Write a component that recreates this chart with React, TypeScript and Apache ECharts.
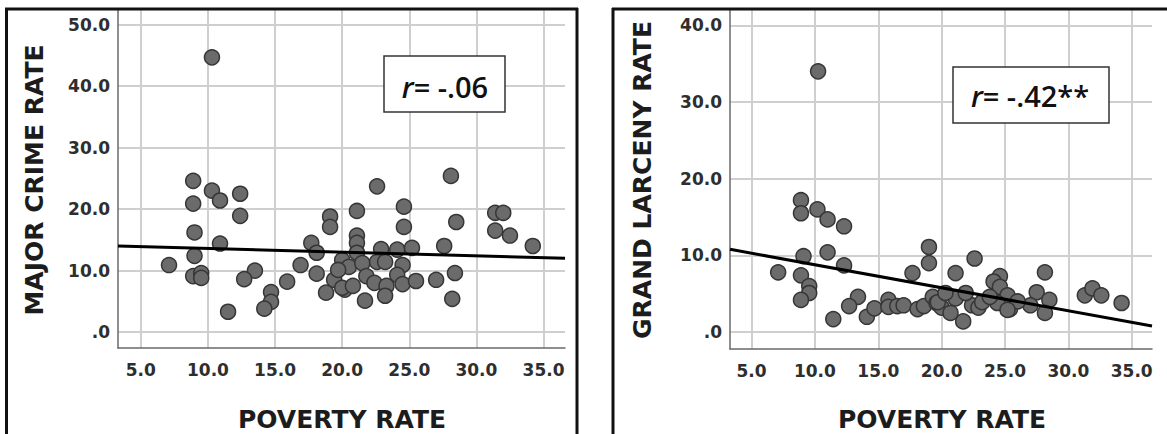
import React, { useEffect, useRef } from "react";
import * as echarts from "echarts";

// Poverty rate (x) vs major crime rate (y)
const majorCrime: number[][] = [
  [10.3, 44.7],
  [8.9, 24.6], [10.3, 23.0], [10.9, 21.4], [12.4, 22.5], [8.9, 20.9], [12.4, 18.9],
  [9.0, 16.2], [10.9, 14.4], [9.0, 12.4], [7.1, 10.9], [8.9, 9.1], [9.5, 9.6],
  [9.5, 8.8], [11.5, 3.3], [13.5, 10.0], [12.7, 8.6], [14.7, 6.5], [14.7, 4.9],
  [14.2, 3.8], [15.9, 8.2], [16.9, 10.9], [17.7, 14.5], [18.1, 12.9], [19.1, 18.8],
  [19.1, 17.1], [18.1, 9.5], [18.8, 6.4], [19.4, 8.5], [20.2, 6.9],
  [22.6, 23.7], [28.1, 25.4], [21.1, 19.7], [24.6, 20.4], [24.6, 17.1], [28.5, 17.9],
  [31.4, 19.4], [32.0, 19.4], [31.4, 16.5], [32.5, 15.7], [34.2, 14.0], [21.1, 15.7],
  [21.1, 14.5], [21.1, 12.9], [22.9, 13.5], [24.1, 13.4], [25.2, 13.7], [27.6, 14.0],
  [20.0, 11.7], [20.5, 10.6], [21.5, 11.2], [22.6, 11.4], [23.2, 11.4], [24.5, 10.9],
  [19.7, 10.1], [21.8, 9.1], [24.1, 9.3], [20.0, 7.2], [20.8, 7.5], [22.4, 8.0],
  [23.3, 7.5], [24.5, 7.8], [25.5, 8.3], [27.0, 8.5], [28.4, 9.6], [28.2, 5.4],
  [21.7, 5.1], [23.2, 5.9],
];

// Poverty rate (x) vs grand larceny rate (y)
const grandLarceny: number[][] = [
  [10.25, 34.0],
  [8.9, 17.2], [8.9, 15.5], [10.2, 16.0], [11.0, 14.7], [12.3, 13.8], [9.1, 9.9],
  [11.0, 10.4], [12.3, 8.7], [7.1, 7.8], [8.9, 7.4], [9.55, 6.0], [9.55, 5.1],
  [8.9, 4.2], [11.45, 1.7], [13.4, 4.6], [12.7, 3.4], [14.1, 2.0], [14.7, 3.1],
  [15.8, 4.2], [15.8, 3.3], [16.5, 3.4], [17.0, 3.5], [17.7, 7.7], [18.1, 3.0],
  [18.6, 3.4], [19.0, 11.1], [19.0, 9.0], [19.3, 4.6], [19.6, 3.8], [20.0, 3.2],
  [22.6, 9.6], [21.1, 7.7], [28.15, 7.8], [24.6, 7.3], [24.1, 6.6], [24.6, 5.9],
  [25.2, 4.8], [25.4, 3.0], [27.5, 5.2], [28.5, 4.2], [28.15, 2.5], [27.0, 3.5],
  [26.0, 4.0], [31.3, 4.8], [31.9, 5.7], [32.6, 4.8], [34.2, 3.8], [21.7, 1.4],
  [20.7, 2.5], [19.7, 3.9], [22.4, 3.5], [22.9, 3.2], [23.2, 3.9], [21.1, 4.4],
  [21.9, 5.1], [24.4, 3.8], [25.2, 2.9], [23.8, 4.6], [20.3, 5.1],
];

// Fit line end points
const fitMajor: number[][] = [[3.3, 14.0], [36.6, 12.0]];
const fitLarceny: number[][] = [[3.3, 10.8], [36.6, 0.8]];

const xRange = [3.3, 36.6];
const yRangeMajor = [-2.6, 52.4];
const yRangeLarceny = [-2.2, 42.0];

const xTitle = "POVERTY RATE";
const yTitleMajor = "MAJOR CRIME RATE";
const yTitleLarceny = "GRAND LARCENY RATE";
const rMajor = "= -.06";
const rLarceny = "= -.42**";

const labelFont = "DejaVu Sans";
const gridColor = "#cfcfcf";
const axisColor = "#6a6a6a";

function makeX(gridIndex: number) {
  return {
    type: "value",
    gridIndex,
    min: xRange[0],
    max: xRange[1],
    axisLine: { show: true, onZero: false, lineStyle: { color: axisColor, width: 1.5 } },
    axisTick: { show: false },
    axisLabel: {
      showMinLabel: false,
      showMaxLabel: false,
      margin: 13,
      fontFamily: labelFont,
      fontWeight: "bold",
      fontSize: 17,
      color: "#2e2e2e",
      formatter: (v: number) => v.toFixed(1),
    },
    splitLine: {
      show: true,
      showMinLine: false,
      showMaxLine: false,
      lineStyle: { color: gridColor, width: 2 },
    },
  };
}

function makeY(gridIndex: number, range: number[]) {
  return {
    type: "value",
    gridIndex,
    min: range[0],
    max: range[1],
    axisLine: { show: true, onZero: false, lineStyle: { color: axisColor, width: 1.5 } },
    axisTick: { show: false },
    axisLabel: {
      showMinLabel: false,
      showMaxLabel: false,
      margin: 8,
      fontFamily: labelFont,
      fontWeight: "bold",
      fontSize: 17,
      color: "#2e2e2e",
      formatter: (v: number) => (v === 0 ? ".0" : v.toFixed(1)),
    },
    splitLine: {
      show: true,
      showMinLine: false,
      showMaxLine: false,
      lineStyle: { color: gridColor, width: 2 },
    },
  };
}

const scatterStyle = {
  color: "#6b6b6b",
  borderColor: "#363636",
  borderWidth: 1.5,
  opacity: 1,
};

function rText(x: number, y: number, rest: string) {
  const base = { fontFamily: "Open Sans", fontWeight: 600, fontSize: 29, fill: "#111" };
  return {
    type: "text",
    x,
    y,
    z: 101,
    style: {
      text: "{i|r}{n|" + rest + "}",
      align: "center",
      verticalAlign: "middle",
      rich: {
        i: { ...base, fontStyle: "italic" },
        n: { ...base },
      },
    },
  };
}

function titleText(x: number, y: number, text: string, rotate: boolean) {
  return {
    type: "text",
    x,
    y,
    rotation: rotate ? Math.PI / 2 : 0,
    z: 100,
    style: {
      text,
      align: "center",
      verticalAlign: "middle",
      fontFamily: labelFont,
      fontWeight: "bold",
      fontSize: 25,
      fill: "#1c1c1c",
    },
  };
}

function border(x1: number, y1: number, x2: number, y2: number, w: number) {
  return {
    type: "line",
    z: 100,
    shape: { x1, y1, x2, y2 },
    style: { stroke: "#111", lineWidth: w },
  };
}

export default function App() {
  const ref = useRef<HTMLDivElement>(null);
  useEffect(() => {
    if (!ref.current) return;
    const chart = echarts.init(ref.current, null, { renderer: "svg" });
    chart.setOption({
      animation: false,
      backgroundColor: "#ffffff",
      grid: [
        { left: 118, top: 10, width: 447, height: 338 },
        { left: 730, top: 10, width: 422, height: 339 },
      ],
      xAxis: [makeX(0), makeX(1)],
      yAxis: [makeY(0, yRangeMajor), makeY(1, yRangeLarceny)],
      series: [
        {
          type: "scatter",
          xAxisIndex: 0,
          yAxisIndex: 0,
          data: majorCrime,
          symbolSize: 15,
          itemStyle: scatterStyle,
          z: 2,
        },
        {
          type: "line",
          xAxisIndex: 0,
          yAxisIndex: 0,
          data: fitMajor,
          symbol: "none",
          lineStyle: { color: "#000", width: 3 },
          z: 3,
        },
        {
          type: "scatter",
          xAxisIndex: 1,
          yAxisIndex: 1,
          data: grandLarceny,
          symbolSize: 15,
          itemStyle: scatterStyle,
          z: 2,
        },
        {
          type: "line",
          xAxisIndex: 1,
          yAxisIndex: 1,
          data: fitLarceny,
          symbol: "none",
          lineStyle: { color: "#000", width: 3 },
          z: 3,
        },
      ],
      graphic: [
        border(6.5, 8, 6.5, 434, 3),
        border(5, 9, 578, 9, 3),
        border(577, 8, 577, 434, 3),
        border(613, 8, 613, 434, 3),
        border(612, 9, 1167, 9, 3),
        {
          type: "rect",
          z: 100,
          shape: { x: 384, y: 56, width: 121, height: 56 },
          style: { fill: "#fff", stroke: "#333", lineWidth: 1.5 },
        },
        {
          type: "rect",
          z: 100,
          shape: { x: 953, y: 67, width: 156, height: 56 },
          style: { fill: "#fff", stroke: "#333", lineWidth: 1.5 },
        },
        rText(445, 86, rMajor),
        rText(1030, 95, rLarceny),
        titleText(342, 419, xTitle, false),
        titleText(942, 419, xTitle, false),
        titleText(34, 180, yTitleMajor, true),
        titleText(642, 180, yTitleLarceny, true),
      ],
    });
    return () => chart.dispose();
  }, []);
  return (
    <div
      ref={ref}
      style={{ position: "fixed", left: 0, top: 0, width: 1167, height: 434 }}
    />
  );
}
